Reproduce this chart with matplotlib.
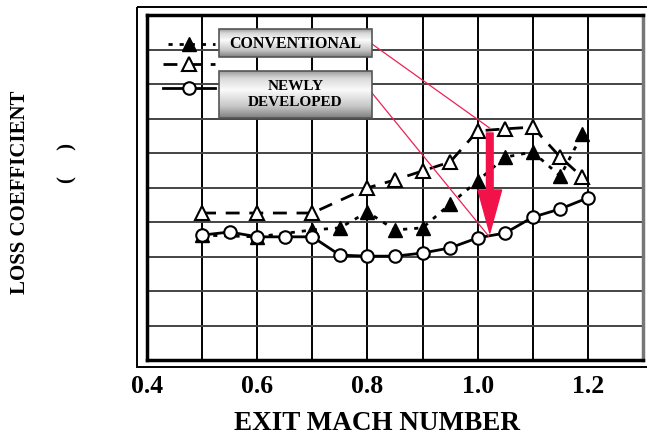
import numpy as np
import matplotlib
matplotlib.use("Agg")
import matplotlib.pyplot as plt
from matplotlib.patches import Rectangle, ConnectionPatch

# ---- data ----
mach_conv = [0.5, 0.6, 0.7, 0.75, 0.8, 0.85, 0.9, 0.95, 1.0, 1.05, 1.1, 1.15, 1.19]
loss_conv_filled = [3.62, 3.57, 3.77, 3.83, 4.29, 3.77, 3.83, 4.52, 5.19, 5.88, 6.03, 5.33, 6.55]

mach_conv_open = [0.5, 0.6, 0.7, 0.8, 0.85, 0.9, 0.95, 1.0, 1.05, 1.1, 1.15, 1.19]
loss_conv_open = [4.26, 4.26, 4.26, 4.99, 5.22, 5.48, 5.74, 6.64, 6.70, 6.75, 5.88, 5.30]

mach_new = [0.5, 0.55, 0.6, 0.65, 0.7, 0.75, 0.8, 0.85, 0.9, 0.95, 1.0, 1.05, 1.1, 1.15, 1.2]
loss_new = [3.62, 3.71, 3.57, 3.57, 3.57, 3.04, 3.01, 3.01, 3.10, 3.25, 3.54, 3.68, 4.14, 4.38, 4.70]

x_ticks = [0.4, 0.6, 0.8, 1.0, 1.2]
x_ticklabels = ["0.4", "0.6", "0.8", "1.0", "1.2"]

arrow_x = 1.022
arrow_from = 6.58
arrow_to = 3.68

W, H = 647, 441
fig = plt.figure(figsize=(W / 100, H / 100), dpi=100)
serif = "Liberation Serif"

# main axes
L, R, T, B = 147, 643, 15, 360
ax = fig.add_axes([L / W, 1 - B / H, (R - L) / W, (B - T) / H])
ax.set_xlim(0.4, 1.3)
ax.set_ylim(0, 10)
for v in np.arange(0.5, 1.25, 0.1):
    ax.axvline(v, color="black", lw=1.4, zorder=1)
for v in range(1, 10):
    ax.axhline(v, color="#444444", lw=1.4, zorder=1)
for s in ax.spines.values():
    s.set_linewidth(2.5)
    s.set_color("black")
ax.spines["right"].set_color("#777777")
ax.set_yticks([])
ax.set_xticks(x_ticks)
ax.set_xticklabels(x_ticklabels, fontfamily=serif, fontweight="bold", fontsize=18.5)
ax.tick_params(axis="x", length=0, pad=11)

ax.plot(mach_conv, loss_conv_filled, color="black", lw=2, ls=(0, (1.5, 2.5)),
        marker="^", ms=10, mfc="black", mec="black", zorder=3)
ax.plot(mach_conv_open, loss_conv_open, color="black", lw=2, ls=(0, (5, 3.5)),
        marker="^", ms=10, mfc="white", mec="black", mew=1.5, zorder=3)
ax.plot(mach_new, loss_new, color="black", lw=2, ls="-",
        marker="o", ms=9, mfc="white", mec="black", mew=1.5, zorder=4)

ax.annotate("", xy=(arrow_x, arrow_to), xytext=(arrow_x, arrow_from),
            arrowprops=dict(arrowstyle="simple,head_length=3.1,head_width=1.7,tail_width=0.48",
                            color="#f2124a", mutation_scale=10, shrinkA=0, shrinkB=0),
            zorder=6)

# overlay in pixel coordinates
ov = fig.add_axes([0, 0, 1, 1], zorder=5)
ov.set_xlim(0, W)
ov.set_ylim(H, 0)
ov.axis("off")
ov.patch.set_alpha(0)

# outer frame
ov.add_patch(Rectangle((137, 7), 520, 360, fill=False, lw=1.4, ec="black"))

# legend samples
ov.plot([168, 215], [44, 44], color="black", lw=2, ls=(0, (1.5, 2.5)))
ov.plot([189], [44], marker="^", ms=10, mfc="black", mec="black", ls="none")
ov.plot([163, 215], [64, 64], color="black", lw=2, ls=(0, (5, 3.5)))
ov.plot([189], [64], marker="^", ms=10, mfc="white", mec="black", mew=1.5, ls="none")
ov.plot([163, 215], [88, 88], color="black", lw=2, ls="-")
ov.plot([189], [88], marker="o", ms=9, mfc="white", mec="black", mew=1.5, ls="none")

# gradient boxes
def metal_box(x0, y0, x1, y1):
    n = 64
    t = np.linspace(0, 1, n)
    g = np.interp(t, [0, 0.15, 0.4, 0.75, 1.0], [0.62, 0.85, 0.98, 0.78, 0.5])
    img = np.repeat(g[:, None], 2, axis=1)
    ov.imshow(img, cmap="gray", vmin=0, vmax=1, extent=(x0, x1, y1, y0),
              aspect="auto", interpolation="bilinear", zorder=2)
    ov.add_patch(Rectangle((x0, y0), x1 - x0, y1 - y0, fill=False, ec="#555555", lw=1.2, zorder=3))

metal_box(219, 29, 372, 57)
metal_box(219, 71, 372, 118)
ov.set_xlim(0, W)
ov.set_ylim(H, 0)
ov.text(295.5, 43.5, "CONVENTIONAL", ha="center", va="center", fontfamily=serif,
        fontweight="bold", fontsize=11.5, zorder=4)
ov.text(295.5, 94.5, "NEWLY\nDEVELOPED", ha="center", va="center", fontfamily=serif,
        fontweight="bold", fontsize=11, linespacing=1.25, zorder=4)

# connector lines
for (px, py), (dx, dy) in [((372, 44), (1.022, 6.72)), ((372, 93), (1.020, 3.59))]:
    cp = ConnectionPatch(xyA=(px, py), coordsA=ov.transData, xyB=(dx, dy), coordsB=ax.transData,
                         color="#ee2255", lw=0.9, zorder=5)
    fig.add_artist(cp)

# axis titles
fig.text(377 / W, 1 - 424 / H, "EXIT MACH NUMBER", ha="center", va="center",
         fontfamily=serif, fontweight="bold", fontsize=19.5)
fig.text(20 / W, 1 - 192 / H, "LOSS COEFFICIENT", ha="center", va="center", rotation=90,
         fontfamily=serif, fontweight="bold", fontsize=15)
fig.text(67 / W, 1 - 163 / H, "(     )", ha="center", va="center", rotation=90,
         fontfamily=serif, fontweight="bold", fontsize=15)

fig.savefig("out.png", dpi=100)
